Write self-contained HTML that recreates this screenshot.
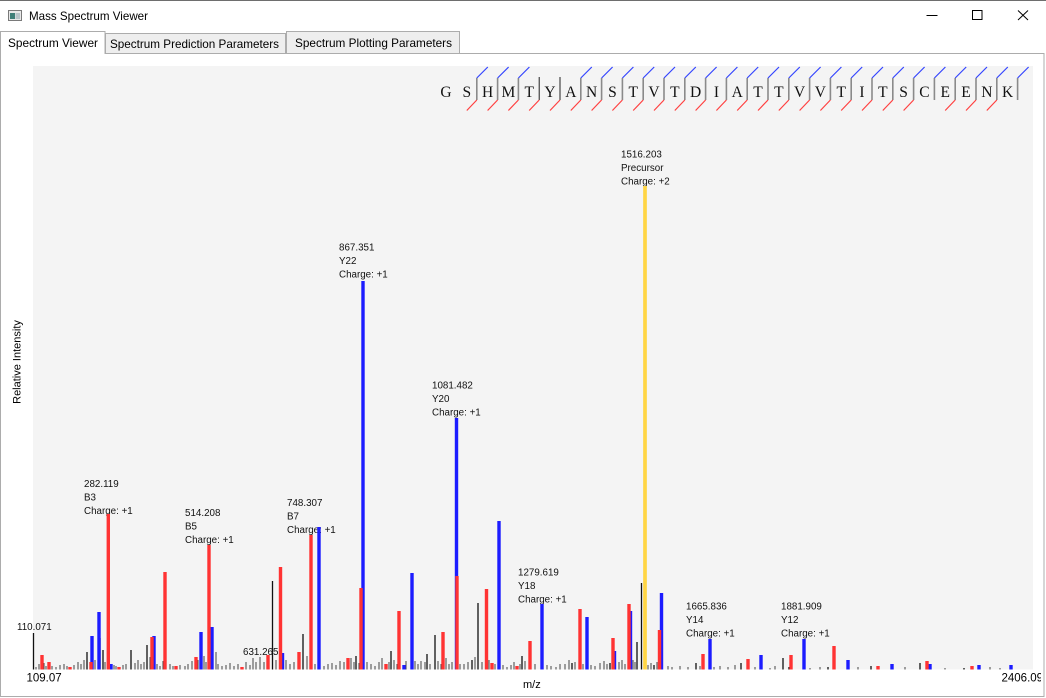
<!DOCTYPE html>
<html>
<head>
<meta charset="utf-8">
<style>
html,body{margin:0;padding:0;background:#fff;}
body{width:1046px;height:698px;overflow:hidden;}
svg{display:block;}
.sans{font-family:"Liberation Sans",sans-serif;}
.seq{font-family:"Liberation Serif",serif;}
</style>
</head>
<body>
<svg width="1046" height="698" viewBox="0 0 1046 698" xmlns="http://www.w3.org/2000/svg">
  <!-- window -->
  <rect x="0" y="0" width="1046" height="698" fill="#ffffff"/>
  <line x1="0" y1="0.5" x2="1046" y2="0.5" stroke="#6e6e6e" stroke-width="1"/>
  <!-- icon -->
  <rect x="8.5" y="10.5" width="13" height="10" fill="#e8e8e8" stroke="#7a7a7a"/>
  <rect x="10" y="13" width="5" height="6" fill="#3f7f78"/>
  <rect x="15.5" y="13" width="4.5" height="6" fill="#b8c4c8"/>
  <text class="sans" x="29" y="20" font-size="12" fill="#000" textLength="119" lengthAdjust="spacingAndGlyphs">Mass Spectrum Viewer</text>
  <!-- title buttons -->
  <line x1="926.5" y1="15.5" x2="937.5" y2="15.5" stroke="#000" stroke-width="1"/>
  <rect x="972.5" y="10.5" width="9.5" height="9" fill="none" stroke="#000" stroke-width="1"/>
  <line x1="1018" y1="10.5" x2="1028" y2="20" stroke="#000" stroke-width="1"/>
  <line x1="1028" y1="10.5" x2="1018" y2="20" stroke="#000" stroke-width="1"/>

  <!-- content panel -->
  <rect x="0.5" y="53.5" width="1043.5" height="643" fill="#ffffff" stroke="#acacac" stroke-width="1"/>
  <!-- tabs -->
  <rect x="105.5" y="33.5" width="180" height="20" fill="#eeeeee" stroke="#acacac" stroke-width="1"/>
  <rect x="286.5" y="31.5" width="173" height="22" fill="#eeeeee" stroke="#acacac" stroke-width="1"/>
  <path d="M0.5 54 V31.5 H105 V54" fill="#ffffff" stroke="#acacac" stroke-width="1"/>
  <rect x="1" y="52" width="103.5" height="3" fill="#ffffff"/>
  <text class="sans" x="8" y="47" font-size="12" fill="#000" textLength="90" lengthAdjust="spacingAndGlyphs">Spectrum Viewer</text>
  <text class="sans" x="110" y="48" font-size="12" fill="#000" textLength="169" lengthAdjust="spacingAndGlyphs">Spectrum Prediction Parameters</text>
  <text class="sans" x="295" y="47" font-size="12" fill="#000" textLength="157" lengthAdjust="spacingAndGlyphs">Spectrum Plotting Parameters</text>

  <!-- plot background -->
  <rect x="33" y="66" width="1000" height="603.5" fill="#f4f4f4"/>

  <!-- sequence -->
  <text class="seq" y="97" font-size="15.5" fill="#111" text-anchor="middle"
    x="446 466.8 487.6 508.4 529.2 550 570.8 591.6 612.4 633.2 654 674.8 695.6 716.4 737.2 758 778.8 799.6 820.4 841.2 862 882.8 903.6 924.4 945.2 966 986.8 1007.6">GSHMTYANSTVTDIATTVVTITSCEENK</text>
  <!-- separator vertical lines -->
  <path fill="none" stroke="#8a8a8a" stroke-width="1.6" d="M476.8 78V100 M497.6 78V100 M518.4 78V100 M580.8 78V100 M601.6 78V100 M622.4 78V100 M643.2 78V100 M664 78V100 M684.8 78V100 M705.6 78V100 M726.4 78V100 M747.2 78V100 M768 78V100 M788.8 78V100 M809.6 78V100 M830.4 78V100 M851.2 78V100 M872 78V100 M892.8 78V100 M913.6 78V100 M934.4 78V100 M955.2 78V100 M976 78V100 M996.8 78V100 M1017.6 78V100"/>
  <path fill="none" stroke="#222" stroke-width="1" d="M539.2 77V100 M560 77V100"/>
  <!-- blue ticks -->
  <path fill="none" stroke="#3344ff" stroke-width="1.2" d="M476.8 78l11 -11 M497.6 78l11 -11 M518.4 78l11 -11 M580.8 78l11 -11 M601.6 78l11 -11 M622.4 78l11 -11 M643.2 78l11 -11 M664 78l11 -11 M684.8 78l11 -11 M705.6 78l11 -11 M726.4 78l11 -11 M747.2 78l11 -11 M768 78l11 -11 M788.8 78l11 -11 M809.6 78l11 -11 M830.4 78l11 -11 M851.2 78l11 -11 M872 78l11 -11 M892.8 78l11 -11 M913.6 78l11 -11 M934.4 78l11 -11 M955.2 78l11 -11 M976 78l11 -11 M996.8 78l11 -11 M1017.6 78l11 -11"/>
  <!-- red ticks -->
  <path fill="none" stroke="#ff4040" stroke-width="1.2" d="M476.8 100l-10 10.5 M497.6 100l-10 10.5 M518.4 100l-10 10.5 M539.2 100l-10 10.5 M560 100l-10 10.5 M580.8 100l-10 10.5 M601.6 100l-10 10.5 M622.4 100l-10 10.5 M643.2 100l-10 10.5 M664 100l-10 10.5 M684.8 100l-10 10.5 M705.6 100l-10 10.5 M726.4 100l-10 10.5 M747.2 100l-10 10.5 M768 100l-10 10.5 M788.8 100l-10 10.5 M809.6 100l-10 10.5 M830.4 100l-10 10.5 M851.2 100l-10 10.5 M872 100l-10 10.5 M892.8 100l-10 10.5 M913.6 100l-10 10.5 M955.2 100l-10 10.5 M976 100l-10 10.5 M996.8 100l-10 10.5"/>

  <!-- annotations -->
  <g class="sans" font-size="9.8" fill="#111">
    <text x="17" y="630">110.071</text>
    <text x="84" y="487">282.119</text><text x="84" y="500.5">B3</text><text x="84" y="514">Charge: +1</text>
    <text x="185" y="516">514.208</text><text x="185" y="529.5">B5</text><text x="185" y="543">Charge: +1</text>
    <text x="287" y="506">748.307</text><text x="287" y="519.5">B7</text><text x="287" y="533">Charge: +1</text>
    <text x="339" y="250.5">867.351</text><text x="339" y="264">Y22</text><text x="339" y="277.5">Charge: +1</text>
    <text x="432" y="388.5">1081.482</text><text x="432" y="402">Y20</text><text x="432" y="415.5">Charge: +1</text>
    <text x="621" y="157.5">1516.203</text><text x="621" y="171">Precursor</text><text x="621" y="184.5">Charge: +2</text>
    <text x="518" y="575.5">1279.619</text><text x="518" y="589">Y18</text><text x="518" y="602.5">Charge: +1</text>
    <text x="686" y="609.5">1665.836</text><text x="686" y="623">Y14</text><text x="686" y="636.5">Charge: +1</text>
    <text x="781" y="609.5">1881.909</text><text x="781" y="623">Y12</text><text x="781" y="636.5">Charge: +1</text>
    <text x="243" y="655">631.265</text>
  </g>

  <!-- noise peaks -->
  <path fill="none" stroke="#444" stroke-width="1" d="M36 669.5V667 M39 669.5V664 M44 669.5V663 M46 669.5V666 M52 669.5V666 M56 669.5V667 M60 669.5V665 M64 669.5V664 M67 669.5V666 M74 669.5V665 M78 669.5V662 M81 669.5V664 M84 669.5V660 M95 669.5V660 M105 669.5V662 M114 669.5V665 M116 669.5V666 M123 669.5V665 M126 669.5V664 M135 669.5V663 M138 669.5V660 M141 669.5V664 M144 669.5V662 M150 669.5V657 M157 669.5V664 M160 669.5V666 M163 669.5V661 M170 669.5V664 M173 669.5V666 M180 669.5V665 M185 669.5V666 M188 669.5V664 M192 669.5V661 M198 669.5V660 M204 669.5V656 M206 669.5V662 M216 669.5V652 M218 669.5V664 M222 669.5V666 M226 669.5V665 M230 669.5V663 M234 669.5V666 M238 669.5V664 M246 669.5V662 M250 669.5V665 M253 669.5V658 M256 669.5V662 M260 669.5V657 M264 669.5V662 M276 669.5V660 M286 669.5V660 M290 669.5V664 M294 669.5V662 M307 669.5V656 M315 669.5V664 M324 669.5V666 M328 669.5V664 M332 669.5V663 M336 669.5V665 M340 669.5V661 M344 669.5V662 M351 669.5V658 M354 669.5V662 M359 669.5V663 M367 669.5V662 M371 669.5V664 M375 669.5V666 M379 669.5V662 M382 669.5V658 M389 669.5V662 M394 669.5V660 M397 669.5V664 M406 669.5V661 M415 669.5V661 M418 669.5V664 M421 669.5V661 M425 669.5V662 M430 669.5V664 M438 669.5V661 M441 669.5V664 M446 669.5V658 M449 669.5V664 M452 669.5V662 M460 669.5V664 M464 669.5V664 M468 669.5V662 M475 669.5V657 M482 669.5V662 M489 669.5V660 M495 669.5V664 M503 669.5V665 M507 669.5V667 M511 669.5V665 M514 669.5V662 M520 669.5V664 M525 669.5V661 M535 669.5V664 M547 669.5V665 M551 669.5V666 M556 669.5V667 M560 669.5V664 M565 669.5V664 M569 669.5V660 M575 669.5V662 M583 669.5V664 M591 669.5V665 M595 669.5V666 M600 669.5V663 M604 669.5V661 M607 669.5V664 M619 669.5V662 M622 669.5V660 M625 669.5V664 M633 669.5V660 M635 669.5V662 M648 669.5V665 M651 669.5V663 M657 669.5V662 M668 669.5V666 M672 669.5V667 M680 669.5V666 M688 669.5V667 M700 669.5V666 M714 669.5V667 M720 669.5V666 M728 669.5V667 M735 669.5V665 M755 669.5V667 M770 669.5V668 M775 669.5V666 M810 669.5V668 M820 669.5V667 M858 669.5V667 M905 669.5V667 M945 669.5V668 M990 669.5V667 M1000 669.5V668"/>
  <!-- black peaks -->
  <path fill="none" stroke="#111" stroke-width="1.3" d="M33.5 669.5V633 M87 669.5V652 M100 669.5V638 M103 669.5V650 M131 669.5V650 M147 669.5V645 M272.5 669.5V581 M303 669.5V634 M356 669.5V656 M391 669.5V651 M427 669.5V654 M435 669.5V635 M472 669.5V660 M478 669.5V603 M522 669.5V656 M572 669.5V663 M610 669.5V663 M637 669.5V642 M641.5 669.5V583 M654 669.5V665 M696 669.5V663 M741 669.5V663 M783 669.5V658 M789 669.5V667 M828 669.5V667 M871 669.5V666 M920 669.5V663 M964 669.5V668"/>
  <!-- blue peaks -->
  <path fill="none" stroke="#1c1cff" stroke-width="3.4" d="M92 669.5V636 M99 669.5V612 M111 669.5V664 M154 669.5V636 M201 669.5V632 M212 669.5V627 M282.5 669.5V653 M319 669.5V527 M363 669.5V281 M404 669.5V665 M412 669.5V573 M456.5 669.5V418 M499 669.5V521 M542 669.5V604 M587 669.5V617 M614.5 669.5V651 M630.5 669.5V611 M661.5 669.5V593 M710 669.5V639 M761 669.5V655 M804 669.5V639 M848 669.5V660 M892 669.5V664 M930 669.5V664 M979 669.5V665 M1011 669.5V665"/>
  <!-- red peaks -->
  <path fill="none" stroke="#ff3333" stroke-width="3.4" d="M42 669.5V655 M49 669.5V662 M70 669.5V667 M91 669.5V662 M108.3 669.5V514 M119 669.5V667 M152 669.5V637 M165 669.5V572 M176 669.5V666 M196 669.5V657 M209 669.5V545 M242 669.5V667 M268 669.5V655 M280.5 669.5V567 M299 669.5V652 M311 669.5V535 M348 669.5V658 M361 669.5V588 M386 669.5V664 M399 669.5V611 M443 669.5V632 M457 669.5V576 M486.5 669.5V589 M492 669.5V663 M517 669.5V666 M530 669.5V641 M580 669.5V609 M613 669.5V638 M629 669.5V604 M659.5 669.5V630 M703 669.5V654 M748 669.5V659 M791 669.5V655 M834 669.5V646 M878 669.5V666 M927 669.5V661 M972 669.5V666"/>
  <!-- precursor -->
  <path fill="none" stroke="#ffd544" stroke-width="3.7" d="M645 669.5V186"/>

  <!-- axes labels -->
  <text class="sans" x="26.5" y="681.5" font-size="11.5" fill="#000">109.07</text>
  <svg x="0" y="660" width="1041" height="30" overflow="hidden">
    <text class="sans" x="1001.5" y="21.5" font-size="11.5" fill="#000">2406.09</text>
  </svg>
  <text class="sans" x="523" y="688" font-size="11" fill="#000">m/z</text>
  <text class="sans" transform="translate(20.5,362) rotate(-90)" text-anchor="middle" font-size="11" fill="#000">Relative Intensity</text>
</svg>
</body>
</html>
